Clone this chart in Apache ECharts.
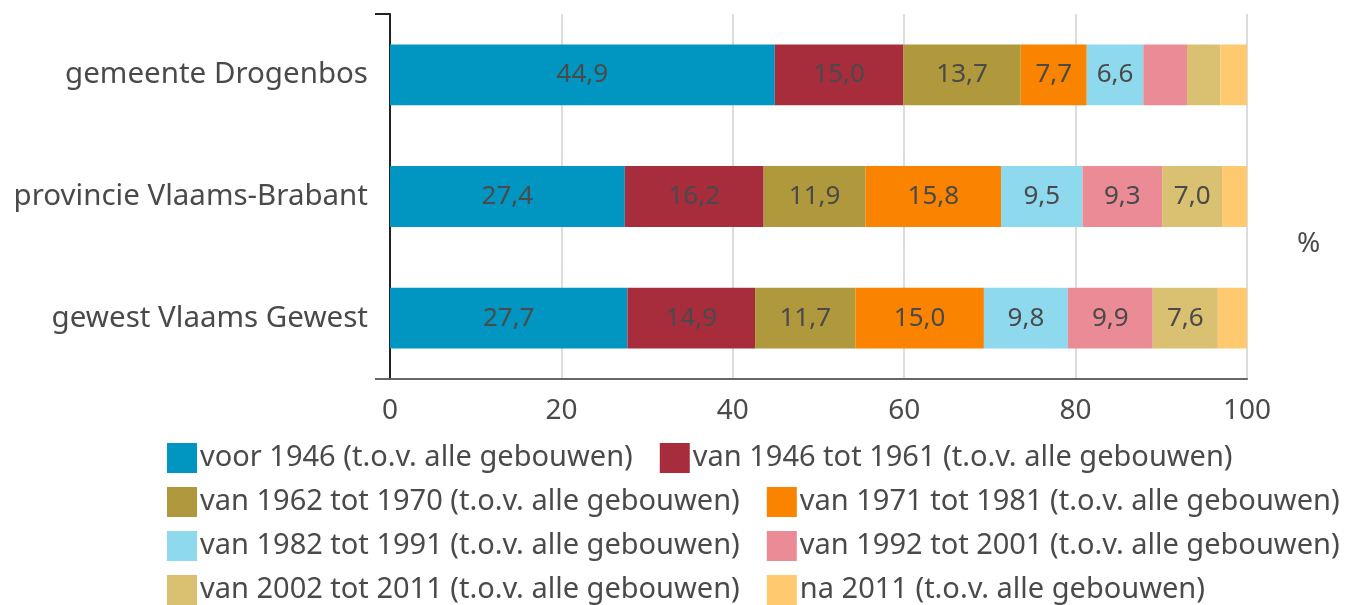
<!DOCTYPE html>
<html>
<head>
<meta charset="utf-8">
<script src="https://cdn.jsdelivr.net/npm/echarts@6/dist/echarts.min.js"></script>
<style>
  html, body { margin: 0; padding: 0; background: #fff; }
  #chart { width: 1345px; height: 605px; }
</style>
</head>
<body>
<div id="chart"></div>
<script>
// Regions shown on the category axis (top to bottom)
const regions = ['gemeente Drogenbos', 'provincie Vlaams-Brabant', 'gewest Vlaams Gewest'];

// Share of buildings per construction period, in % of all buildings
const voor1946   = [44.9, 27.4, 27.7];
const van1946    = [15.0, 16.2, 14.9];
const van1962    = [13.7, 11.9, 11.7];
const van1971    = [7.7, 15.8, 15.0];
const van1982    = [6.6, 9.5, 9.8];
const van1992    = [5.1, 9.3, 9.9];
const van2002    = [3.9, 7.0, 7.6];
const na2011     = [3.1, 2.9, 3.4];

const seriesNames = [
  'voor 1946 (t.o.v. alle gebouwen)',
  'van 1946 tot 1961 (t.o.v. alle gebouwen)',
  'van 1962 tot 1970 (t.o.v. alle gebouwen)',
  'van 1971 tot 1981 (t.o.v. alle gebouwen)',
  'van 1982 tot 1991 (t.o.v. alle gebouwen)',
  'van 1992 tot 2001 (t.o.v. alle gebouwen)',
  'van 2002 tot 2011 (t.o.v. alle gebouwen)',
  'na 2011 (t.o.v. alle gebouwen)'
];
const seriesValues = [voor1946, van1946, van1962, van1971, van1982, van1992, van2002, na2011];
const seriesColors = ['#0096c1', '#a72d3d', '#b0983d', '#fa8300', '#8fd9ef', '#eb8b96', '#d9c171', '#ffc96f'];

const xTicks = [0, 20, 40, 60, 80, 100];

const FONT = 'Noto Sans';
const TEXT = '#4a4a4a';

const chart = echarts.init(document.getElementById('chart'), null, { renderer: 'canvas' });

const series = seriesNames.map((name, i) => ({
  name,
  type: 'bar',
  stack: 'total',
  barCategoryGap: '50%',
  data: seriesValues[i],
  itemStyle: { color: seriesColors[i] },
  label: {
    show: true,
    position: 'inside',
    color: TEXT,
    fontFamily: FONT,
    fontSize: 26,
    formatter: p => (p.value >= 6 ? p.value.toFixed(1).replace('.', ',') : '')
  },
  emphasis: { disabled: true }
}));

// Legend laid out as four rows of two entries
const legendRowTops = [443, 487, 531, 575];
const legends = legendRowTops.map((top, r) => ({
  left: 167,
  top,
  padding: 0,
  orient: 'horizontal',
  itemWidth: 30,
  itemHeight: 30,
  itemGap: 27,
  icon: 'rect',
  selectedMode: false,
  textStyle: { color: TEXT, fontFamily: FONT, fontSize: 29, padding: [0, 0, 0, -2] },
  data: seriesNames.slice(r * 2, r * 2 + 2)
}));

chart.setOption({
  animation: false,
  textStyle: { fontFamily: FONT },
  grid: { left: 390, right: 98, top: 14, bottom: 226, containLabel: false },
  xAxis: {
    type: 'value',
    min: xTicks[0],
    max: xTicks[xTicks.length - 1],
    interval: 20,
    axisLine: { show: true, lineStyle: { color: '#666', width: 2 } },
    axisTick: { show: false },
    splitLine: { show: true, lineStyle: { color: '#dcdcdc', width: 2 } },
    axisLabel: { color: TEXT, fontFamily: FONT, fontSize: 28, margin: 18 }
  },
  yAxis: {
    type: 'category',
    inverse: true,
    data: regions,
    axisLine: { show: true, lineStyle: { color: '#222', width: 2 } },
    axisTick: { show: false },
    axisLabel: { color: TEXT, fontFamily: FONT, fontSize: 29.5, margin: 22 }
  },
  legend: legends,
  graphic: [
    { type: 'line', shape: { x1: 375, y1: 14, x2: 390, y2: 14 }, style: { stroke: '#222', lineWidth: 2 } },
    { type: 'line', shape: { x1: 375, y1: 379, x2: 390, y2: 379 }, style: { stroke: '#666', lineWidth: 2 } },
    { type: 'text', left: 1297, top: 230, style: { text: '%', fill: TEXT, font: '28px "Noto Sans"' } }
  ],
  series
});
</script>
</body>
</html>
